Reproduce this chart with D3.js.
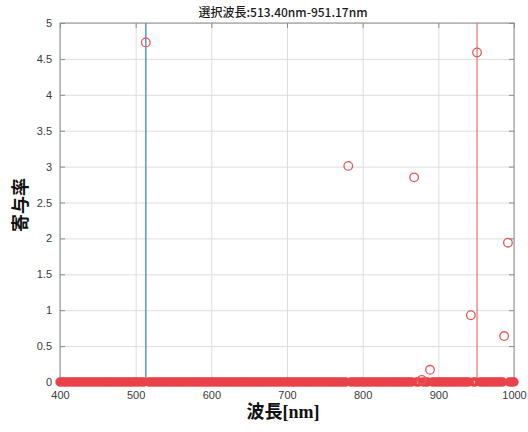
<!DOCTYPE html>
<html><head><meta charset="utf-8">
<script src="https://cdn.jsdelivr.net/npm/d3@7"></script>
<style>
html,body{margin:0;padding:0;background:#fff;}
svg{display:block;}
</style></head>
<body>
<script>
// ---- data ----
const titleText = "選択波長:513.40nm-951.17nm";
const xLabel = "波長[nm]";
const yLabel = "寄与率";
const xTicks = [400,500,600,700,800,900,1000];
const yTicks = [0,0.5,1,1.5,2,2.5,3,3.5,4,4.5,5];
const yTickLabels = ["0","0.5","1","1.5","2","2.5","3","3.5","4","4.5","5"];
const selectedWavelengths = [513.40, 951.17];
const peakWavelengths = [513.4, 781, 868, 878, 889, 943, 951.17, 987, 992];
const peakValues      = [4.73, 3.01, 2.85, 0.03, 0.17, 0.93, 4.59, 0.64, 1.94];
const zeroWavelengths = [400,403,406,409,412,415,418,421,424,427,430,433,436,439,442,445,448,451,454,457,460,463,466,469,472,475,478,481,484,487,490,493,496,499,502,505,508,511,517,520,523,526,529,532,535,538,541,544,547,550,553,556,559,562,565,568,571,574,577,580,583,586,589,592,595,598,601,604,607,610,613,616,619,622,625,628,631,634,637,640,643,646,649,652,655,658,661,664,667,670,673,676,679,682,685,688,691,694,697,700,703,706,709,712,715,718,721,724,727,730,733,736,739,742,745,748,751,754,757,760,763,766,769,772,775,778,784,787,790,793,796,799,802,805,808,811,814,817,820,823,826,829,832,835,838,841,844,847,850,853,856,859,862,865,871,874,880,883,886,892,895,898,901,904,907,910,913,916,919,922,925,928,931,934,937,940,946,949,955,958,961,964,967,970,973,976,979,982,985,994,997,1000];
const zeroValues = zeroWavelengths.map(() => 0);

// ---- layout ----
const W = 528, H = 432;
const m = {left: 60, right: 14, top: 23, bottom: 50};
const pw = W - m.left - m.right, ph = H - m.top - m.bottom;

const svg = d3.select("body").append("svg").attr("width", W).attr("height", H);
const x = d3.scaleLinear().domain([400, 1000]).range([m.left, m.left + pw]);
const y = d3.scaleLinear().domain([0, 5]).range([m.top + ph, m.top]);

const tickFont = "'Liberation Sans', Arial, sans-serif";

// grid
const g = svg.append("g");
g.append("g").attr("transform", `translate(0,${m.top + ph})`)
  .call(d3.axisBottom(x).tickValues(xTicks).tickSize(-ph).tickFormat(""))
  .call(s => s.select(".domain").remove())
  .call(s => s.selectAll("line").attr("stroke", "#dedede"));
g.append("g").attr("transform", `translate(${m.left},0)`)
  .call(d3.axisLeft(y).tickValues(yTicks).tickSize(-pw).tickFormat(""))
  .call(s => s.select(".domain").remove())
  .call(s => s.selectAll("line").attr("stroke", "#dedede"));

// box
const axisColor = "#8c8c8c";
svg.append("rect").attr("x", m.left).attr("y", m.top).attr("width", pw).attr("height", ph)
  .attr("fill", "none").attr("stroke", axisColor).attr("stroke-width", 1);

// inward ticks on all sides
const ax = svg.append("g");
ax.append("g").attr("transform", `translate(0,${m.top + ph})`)
  .call(d3.axisBottom(x).tickValues(xTicks).tickSize(-5).tickPadding(9).tickFormat(d3.format("d")))
  .call(s => s.select(".domain").remove());
ax.append("g").attr("transform", `translate(0,${m.top})`)
  .call(d3.axisTop(x).tickValues(xTicks).tickSize(-5).tickFormat(""))
  .call(s => s.select(".domain").remove());
ax.append("g").attr("transform", `translate(${m.left},0)`)
  .call(d3.axisLeft(y).tickValues(yTicks).tickSize(-5).tickPadding(8).tickFormat((d, i) => yTickLabels[i]))
  .call(s => s.select(".domain").remove());
ax.append("g").attr("transform", `translate(${m.left + pw},0)`)
  .call(d3.axisRight(y).tickValues(yTicks).tickSize(-5).tickFormat(""))
  .call(s => s.select(".domain").remove());
ax.selectAll(".tick line").attr("stroke", axisColor);
ax.selectAll(".tick text").attr("fill", "#3a3a3a").style("font-family", tickFont).style("font-size", "11px");

// selected wavelength lines
const lineColors = ["#5a9fd6", "#e07468"];
svg.append("g").selectAll("line").data(selectedWavelengths).join("line")
  .attr("x1", d => x(d)).attr("x2", d => x(d))
  .attr("y1", m.top).attr("y2", m.top + ph)
  .attr("stroke", (d, i) => lineColors[i]).attr("stroke-width", (d, i) => i === 0 ? 1.6 : 1.2);

// zero band points
const ptColor = "#e8424a";
svg.append("g").selectAll("circle").data(zeroWavelengths).join("circle")
  .attr("cx", d => x(d)).attr("cy", (d, i) => y(zeroValues[i])).attr("r", 3.3)
  .attr("fill", "none").attr("stroke", ptColor).attr("stroke-width", 2.8);

// peak points
svg.append("g").selectAll("circle").data(peakWavelengths).join("circle")
  .attr("cx", d => x(d)).attr("cy", (d, i) => y(peakValues[i])).attr("r", 4.3)
  .attr("fill", "none").attr("stroke", "#e2585a").attr("stroke-width", 1.3);

// title
svg.append("text").attr("x", 283).attr("y", 17).attr("text-anchor", "middle")
  .style("font-family", "'Noto Sans CJK JP', sans-serif").style("font-size", "12px")
  .style("font-weight", "500").attr("fill", "#1a1a1a").text(titleText);

// x label
svg.append("text").attr("x", 283).attr("y", 418).attr("text-anchor", "middle")
  .style("font-family", "'Liberation Serif', 'Noto Sans CJK JP', serif").style("font-size", "18px")
  .style("font-weight", "bold").attr("fill", "#111").text(xLabel);

// y label
svg.append("text").attr("transform", "translate(27,205) rotate(-90)").attr("text-anchor", "middle")
  .style("font-family", "'Noto Sans CJK JP', serif").style("font-size", "18px")
  .style("font-weight", "bold").attr("fill", "#111").text(yLabel);
</script>
</body></html>
